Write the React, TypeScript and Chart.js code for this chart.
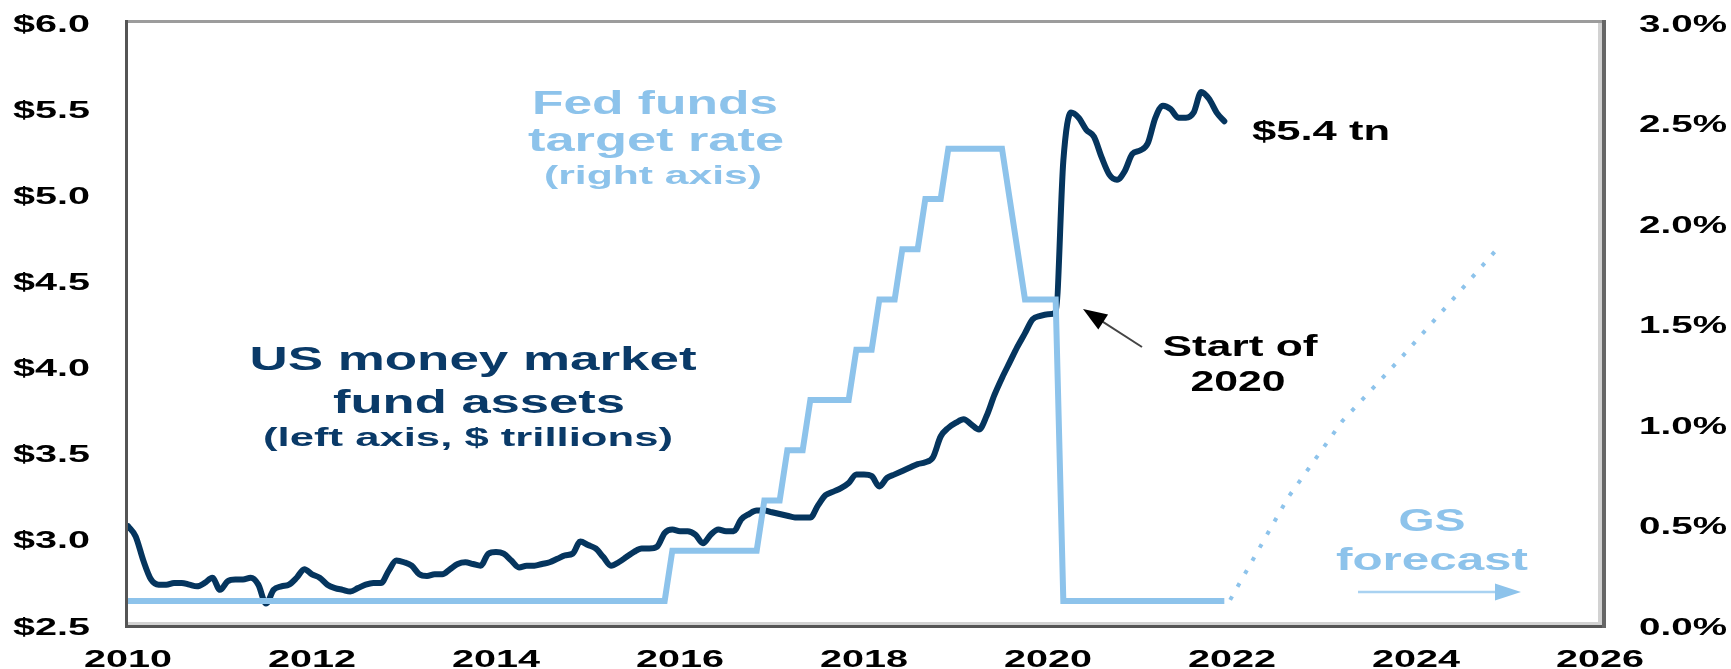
import React, { useEffect, useRef } from "react";
import { Chart, registerables } from "chart.js";

Chart.register(...registerables);

// ---------- DATA ----------
const START_YEAR = 2010;

// US money market fund assets, $ trillions, monthly Jan 2010 .. Dec 2021 (left axis)
const mmfAssets = [
  3.08, 3.02, 2.88, 2.77, 2.74, 2.74, 2.75, 2.75, 2.74, 2.73, 2.75, 2.78, // 2010
  2.71, 2.76, 2.77, 2.77, 2.78, 2.74, 2.63, 2.71, 2.73, 2.74, 2.78, 2.83, // 2011
  2.80, 2.78, 2.74, 2.72, 2.71, 2.70, 2.72, 2.74, 2.75, 2.75, 2.82, 2.88, // 2012
  2.87, 2.85, 2.80, 2.79, 2.80, 2.80, 2.83, 2.86, 2.87, 2.86, 2.85, 2.92, // 2013
  2.93, 2.92, 2.88, 2.84, 2.85, 2.85, 2.86, 2.87, 2.89, 2.91, 2.92, 2.99, // 2014
  2.97, 2.95, 2.90, 2.85, 2.87, 2.90, 2.93, 2.95, 2.95, 2.96, 3.04, 3.06, // 2015
  3.05, 3.05, 3.03, 2.98, 3.03, 3.06, 3.05, 3.05, 3.12, 3.15, 3.17, 3.17, // 2016
  3.16, 3.15, 3.14, 3.13, 3.13, 3.13, 3.20, 3.26, 3.28, 3.30, 3.33, 3.38, // 2017
  3.38, 3.37, 3.31, 3.36, 3.38, 3.40, 3.42, 3.44, 3.45, 3.48, 3.60, 3.65, // 2018
  3.68, 3.70, 3.67, 3.64, 3.72, 3.84, 3.94, 4.03, 4.12, 4.20, 4.28, 4.30, // 2019
  4.31, 4.32, 5.20, 5.48, 5.45, 5.38, 5.34, 5.22, 5.12, 5.09, 5.14, 5.24, // 2020
  5.26, 5.30, 5.45, 5.52, 5.50, 5.45, 5.45, 5.48, 5.60, 5.56, 5.48, 5.43, // 2021
];

// Fed funds target rate (midpoint, %), monthly Jan 2010 .. Dec 2021 (right axis)
const fedFunds = [
  0.125, 0.125, 0.125, 0.125, 0.125, 0.125, 0.125, 0.125, 0.125, 0.125, 0.125, 0.125, // 2010
  0.125, 0.125, 0.125, 0.125, 0.125, 0.125, 0.125, 0.125, 0.125, 0.125, 0.125, 0.125, // 2011
  0.125, 0.125, 0.125, 0.125, 0.125, 0.125, 0.125, 0.125, 0.125, 0.125, 0.125, 0.125, // 2012
  0.125, 0.125, 0.125, 0.125, 0.125, 0.125, 0.125, 0.125, 0.125, 0.125, 0.125, 0.125, // 2013
  0.125, 0.125, 0.125, 0.125, 0.125, 0.125, 0.125, 0.125, 0.125, 0.125, 0.125, 0.125, // 2014
  0.125, 0.125, 0.125, 0.125, 0.125, 0.125, 0.125, 0.125, 0.125, 0.125, 0.125, 0.375, // 2015
  0.375, 0.375, 0.375, 0.375, 0.375, 0.375, 0.375, 0.375, 0.375, 0.375, 0.375, 0.625, // 2016
  0.625, 0.625, 0.875, 0.875, 0.875, 1.125, 1.125, 1.125, 1.125, 1.125, 1.125, 1.375, // 2017
  1.375, 1.375, 1.625, 1.625, 1.625, 1.875, 1.875, 1.875, 2.125, 2.125, 2.125, 2.375, // 2018
  2.375, 2.375, 2.375, 2.375, 2.375, 2.375, 2.375, 2.125, 1.875, 1.625, 1.625, 1.625, // 2019
  1.625, 1.625, 0.125, 0.125, 0.125, 0.125, 0.125, 0.125, 0.125, 0.125, 0.125, 0.125, // 2020
  0.125, 0.125, 0.125, 0.125, 0.125, 0.125, 0.125, 0.125, 0.125, 0.125, 0.125, 0.125, // 2021
];

// GS forecast path for the fed funds rate (dotted)
const forecastYears = [2021.98, 2022.61, 2023.2, 2023.81, 2024.4, 2024.87];
const forecastRates = [0.13, 0.64, 1.02, 1.32, 1.625, 1.87];

// Axis ticks
const xTickYears = [2010, 2012, 2014, 2016, 2018, 2020, 2022, 2024, 2026];
const leftTicks = [2.5, 3.0, 3.5, 4.0, 4.5, 5.0, 5.5, 6.0];
const rightTicks = [0.0, 0.5, 1.0, 1.5, 2.0, 2.5, 3.0];

// ---------- STYLE ----------
const NAVY = "#05355E";
const NAVY_TEXT = "#0A3A68";
const LIGHT = "#8DC3EB";
const FONT = '"Liberation Sans", Arial, sans-serif';

const monthX = (i: number) => START_YEAR + i / 12;

function stretchText(
  ctx: CanvasRenderingContext2D,
  text: string,
  anchorX: number,
  baseline: number,
  size: number,
  width: number,
  color: string,
  align: "left" | "center" | "right" = "center"
) {
  ctx.save();
  ctx.font = `bold ${size}px ${FONT}`;
  const w = ctx.measureText(text).width;
  const sx = width / w;
  const left = align === "center" ? anchorX - width / 2 : align === "right" ? anchorX - width : anchorX;
  ctx.fillStyle = color;
  ctx.textAlign = "left";
  ctx.textBaseline = "alphabetic";
  ctx.translate(left, baseline);
  ctx.scale(sx, 1);
  ctx.fillText(text, 0, 0);
  ctx.restore();
}

const overlayPlugin = {
  id: "overlay",
  afterDraw(chart: any) {
    const ctx: CanvasRenderingContext2D = chart.ctx;
    const x = chart.scales.x;
    const yL = chart.scales.yL;
    const yR = chart.scales.yR;
    const area = chart.chartArea;

    // frame (Excel-like shaded box)
    ctx.save();
    ctx.fillStyle = "#9c9c9c";
    ctx.fillRect(area.left - 3, area.top - 3, area.right - area.left + 9, 3);
    ctx.fillStyle = "#d2d2d2";
    ctx.fillRect(area.left, area.bottom - 4, area.right - area.left + 2, 3);
    ctx.fillRect(area.right - 2, area.top, 4, area.bottom - area.top);
    ctx.fillStyle = "#555555";
    ctx.fillRect(area.left - 3, area.top - 3, 3, area.bottom - area.top + 5);
    ctx.fillRect(area.left - 3, area.bottom - 1, area.right - area.left + 9, 3);
    ctx.fillStyle = "#666666";
    ctx.fillRect(area.right + 2, area.top - 3, 4, area.bottom - area.top + 5);
    ctx.restore();

    // tick labels
    const TS = 24;
    leftTicks.forEach((v) => {
      const py = yL.getPixelForValue(v);
      stretchText(ctx, "$" + v.toFixed(1), 90, py + TS * 0.36, TS, 77, "#000", "right");
    });
    rightTicks.forEach((v) => {
      const py = yR.getPixelForValue(v);
      stretchText(ctx, v.toFixed(1) + "%", 1639, py + TS * 0.36, TS, 88, "#000", "left");
    });
    xTickYears.forEach((yr) => {
      const px = x.getPixelForValue(yr);
      stretchText(ctx, String(yr), px, 667, TS, 88, "#000", "center");
    });

    // annotations
    stretchText(ctx, "Fed funds", 655, 114, 33, 246, LIGHT);
    stretchText(ctx, "target rate", 656, 151, 33, 256, LIGHT);
    stretchText(ctx, "(right axis)", 653, 184, 25, 218, LIGHT);

    stretchText(ctx, "US money market", 473, 370, 34, 447, NAVY_TEXT);
    stretchText(ctx, "fund assets", 479, 413, 34, 292, NAVY_TEXT);
    stretchText(ctx, "(left axis, $ trillions)", 468, 446, 26, 410, NAVY_TEXT);

    stretchText(ctx, "$5.4 tn", 1321, 140, 28, 138, "#000");
    stretchText(ctx, "Start of", 1240, 356, 29, 155, "#000");
    stretchText(ctx, "2020", 1238, 391, 29, 95, "#000");

    stretchText(ctx, "GS", 1432, 531, 31, 67, LIGHT);
    stretchText(ctx, "forecast", 1432, 570, 31, 192, LIGHT);

    // "Start of 2020" arrow
    ctx.save();
    const tipX = 1083, tipY = 309, tailX = 1142, tailY = 347;
    const ang = Math.atan2(tailY - tipY, tailX - tipX);
    ctx.strokeStyle = "#444";
    ctx.lineWidth = 2;
    ctx.beginPath();
    ctx.moveTo(tailX, tailY);
    ctx.lineTo(tipX + Math.cos(ang) * 14, tipY + Math.sin(ang) * 14);
    ctx.stroke();
    ctx.fillStyle = "#000";
    ctx.beginPath();
    ctx.moveTo(tipX, tipY);
    ctx.lineTo(tipX + Math.cos(ang) * 24 - Math.sin(ang) * 9, tipY + Math.sin(ang) * 24 + Math.cos(ang) * 9);
    ctx.lineTo(tipX + Math.cos(ang) * 24 + Math.sin(ang) * 9, tipY + Math.sin(ang) * 24 - Math.cos(ang) * 9);
    ctx.closePath();
    ctx.fill();
    ctx.restore();

    // GS forecast arrow
    ctx.save();
    ctx.strokeStyle = "#A9D2F1";
    ctx.lineWidth = 2.5;
    ctx.beginPath();
    ctx.moveTo(1358, 592);
    ctx.lineTo(1497, 592);
    ctx.stroke();
    ctx.fillStyle = LIGHT;
    ctx.beginPath();
    ctx.moveTo(1521, 592);
    ctx.lineTo(1495, 583.5);
    ctx.lineTo(1495, 600.5);
    ctx.closePath();
    ctx.fill();
    ctx.restore();
  },
};

export default function App() {
  const canvasRef = useRef<HTMLCanvasElement | null>(null);

  useEffect(() => {
    const canvas = canvasRef.current;
    if (!canvas) return;
    const mmfPoints = mmfAssets.map((v, i) => ({ x: monthX(i), y: v }));
    const fedPoints = fedFunds.map((v, i) => ({ x: monthX(i), y: v }));
    const fcPoints = forecastYears.map((yr, i) => ({ x: yr, y: forecastRates[i] }));

    const chart = new Chart(canvas, {
      type: "line",
      data: {
        datasets: [
          {
            label: "Fed funds target rate",
            data: fedPoints,
            yAxisID: "yR",
            borderColor: LIGHT,
            borderWidth: 6,
            pointRadius: 0,
            tension: 0,
            borderJoinStyle: "miter",
            order: 1,
          },
          {
            label: "GS forecast",
            data: fcPoints,
            yAxisID: "yR",
            borderColor: LIGHT,
            borderWidth: 4,
            borderDash: [4, 11],
            pointRadius: 0,
            tension: 0,
            order: 1,
          },
          {
            label: "US money market fund assets",
            data: mmfPoints,
            yAxisID: "yL",
            borderColor: NAVY,
            borderWidth: 6,
            pointRadius: 0,
            cubicInterpolationMode: "monotone",
            borderJoinStyle: "round",
            borderCapStyle: "round",
            order: 2,
          },
        ],
      },
      options: {
        responsive: false,
        animation: false,
        devicePixelRatio: 1,
        events: [],
        layout: { padding: { left: 128, right: 131, top: 23, bottom: 43 } },
        plugins: { legend: { display: false }, tooltip: { enabled: false } },
        scales: {
          x: { type: "linear", min: 2010, max: 2026, display: false },
          yL: { type: "linear", position: "left", min: 2.5, max: 6.0, display: false },
          yR: { type: "linear", position: "right", min: 0, max: 3.0, display: false },
        },
      } as any,
      plugins: [overlayPlugin],
    });
    return () => chart.destroy();
  }, []);

  return (
    <div style={{ position: "fixed", left: 0, top: 0, width: 1731, height: 669, background: "#fff" }}>
      <canvas ref={canvasRef} width={1731} height={669} style={{ display: "block" }} />
    </div>
  );
}
